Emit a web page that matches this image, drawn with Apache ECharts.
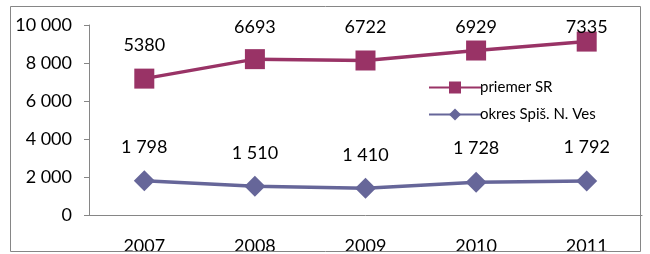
<!DOCTYPE html>
<html>
<head>
<meta charset="utf-8">
<script src="https://cdn.jsdelivr.net/npm/echarts@6/dist/echarts.min.js"></script>
<style>
	html, body { margin: 0; padding: 0; background: #fff; }
	#chart { width: 650px; height: 254px; }
</style>
</head>
<body>
<div id="chart"></div>
<script>
(function(){
	// data
	var years = ['2007', '2008', '2009', '2010', '2011'];
	var priemerSR = [5380, 6693, 6722, 6929, 7335];
	var okresSNV = [1798, 1510, 1410, 1728, 1792];
	var seriesNames = ['priemer SR', 'okres Spiš. N. Ves'];
	var yMin = 0, yMax = 10000, yStep = 2000;

	var colors = ['#993366', '#666699'];
	var font = 'Lato, "Open Sans", sans-serif';

	// 1798 -> "1 798"
	var spaced = function(v) {
		return String(v).replace(/\B(?=(\d{3})+(?!\d))/g, ' ');
	};

	// labels are kept inside the plot area, like Excel does
	var clampLabel = function(p) {
		var r = p.labelRect;
		return {
			x: r.x + r.width / 2,
			y: Math.max(r.y + r.height / 2, 27),
			align: 'center',
			verticalAlign: 'middle'
		};
	};

	var chart = echarts.init(document.getElementById('chart'));
	chart.setOption({
		animation: false,
		textStyle: { fontFamily: font },
		grid: {
			left: 89,
			right: 8,
			top: 25,
			bottom: 39,
			outerBoundsMode: 'none',
			containLabel: false
		},
		legend: {
			orient: 'vertical',
			left: 423,
			top: 75,
			itemWidth: 52,
			itemHeight: 15,
			itemGap: 12,
			textStyle: { fontSize: 15, color: '#000', fontFamily: font, padding: [0, 0, 0, -6] },
			data: [seriesNames[0], seriesNames[1]]
		},
		xAxis: {
			type: 'category',
			data: years,
			axisLine: { lineStyle: { color: '#868686', width: 1 } },
			axisTick: { length: 5, lineStyle: { color: '#868686' } },
			axisLabel: { color: '#000', fontSize: 18, margin: 22 }
		},
		yAxis: {
			type: 'value',
			min: yMin,
			max: yMax,
			interval: yStep,
			splitLine: { show: false },
			axisLine: { show: true, lineStyle: { color: '#868686', width: 1 } },
			axisTick: { show: true, length: 5, lineStyle: { color: '#868686' } },
			axisLabel: {
				color: '#000',
				fontSize: 18,
				margin: 17,
				formatter: spaced
			}
		},
		series: [{
				name: seriesNames[1],
				type: 'line',
				stack: 'total',
				data: okresSNV,
				color: colors[1],
				symbol: 'diamond',
				symbolSize: 21,
				lineStyle: { width: 3.5, color: colors[1] },
				itemStyle: { color: colors[1] },
				label: {
					show: true,
					position: 'top',
					distance: 14,
					fontSize: 18,
					color: '#000',
					formatter: function(p) { return spaced(p.value); }
				},
				labelLayout: clampLabel,
				z: 2
			},
			{
				name: seriesNames[0],
				type: 'line',
				stack: 'total',
				data: priemerSR,
				color: colors[0],
				symbol: 'rect',
				symbolSize: 20,
				lineStyle: { width: 3.5, color: colors[0] },
				itemStyle: { color: colors[0] },
				label: {
					show: true,
					position: 'top',
					distance: 14,
					fontSize: 18,
					color: '#000',
					formatter: '{c}'
				},
				labelLayout: clampLabel,
				z: 3
			}
		],
		graphic: [{
				type: 'rect',
				left: 0,
				top: 252,
				shape: { width: 650, height: 4 },
				style: { fill: '#fff' },
				z: 100
			},
			{
				type: 'rect',
				shape: { x: 10.5, y: 6.5, width: 630, height: 245 },
				style: { fill: 'none', stroke: '#868686', lineWidth: 1 },
				z: 101
			}
		]
	});
})();
</script>
</body>
</html>
